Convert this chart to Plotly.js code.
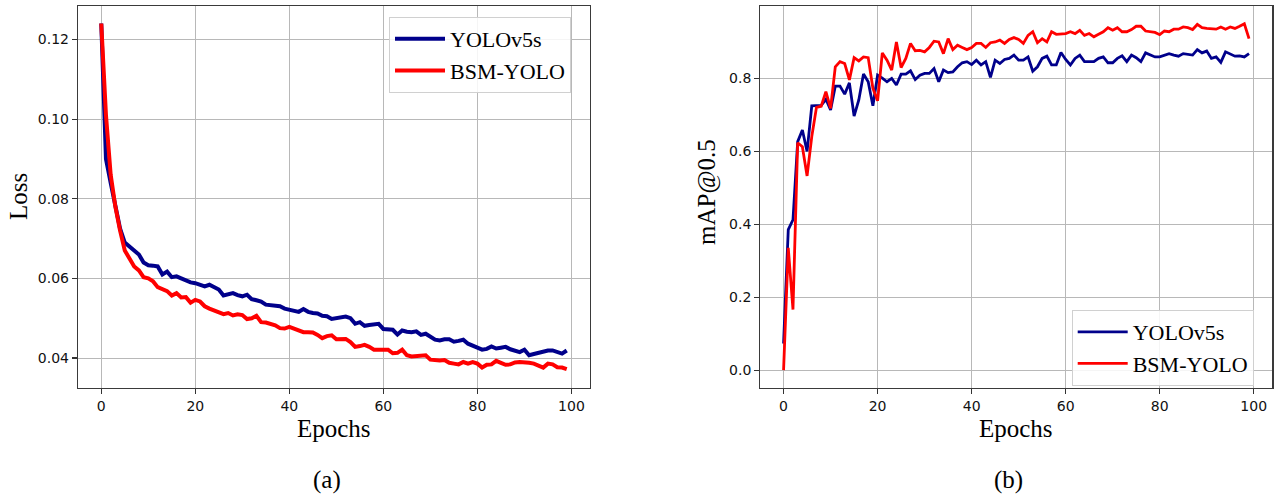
<!DOCTYPE html>
<html>
<head>
<meta charset="utf-8">
<script src="https://cdn.plot.ly/plotly-3.0.1.min.js"></script>
<style>html,body{margin:0;padding:0;background:#fff;}#chart{width:1277px;height:497px;}</style>
</head>
<body>
<div id="chart"></div>
<script>
// Epoch index (x categories)
const epochs = Array.from({length: 100}, (_, i) => i);

// (a) Loss
const lossYOLOv5s = [
  0.1240, 0.0900, 0.0840, 0.0780, 0.0725, 0.0690, 0.0680, 0.0670, 0.0660, 0.0640,
  0.0633, 0.0632, 0.0630, 0.0610, 0.0617, 0.0603, 0.0605, 0.0600, 0.0594, 0.0590,
  0.0588, 0.0585, 0.0580, 0.0584, 0.0578, 0.0572, 0.0557, 0.0560, 0.0563, 0.0558,
  0.0555, 0.0559, 0.0548, 0.0545, 0.0542, 0.0534, 0.0533, 0.0533, 0.0530, 0.0524,
  0.0522, 0.0518, 0.0516, 0.0523, 0.0516, 0.0513, 0.0512, 0.0506, 0.0505, 0.0498,
  0.0500, 0.0503, 0.0504, 0.0500, 0.0486, 0.0490, 0.0481, 0.0483, 0.0484, 0.0486,
  0.0473, 0.0473, 0.0471, 0.0459, 0.0469, 0.0466, 0.0465, 0.0467, 0.0458, 0.0461,
  0.0452, 0.0446, 0.0444, 0.0447, 0.0447, 0.0441, 0.0443, 0.0446, 0.0436, 0.0430,
  0.0426, 0.0421, 0.0423, 0.0429, 0.0424, 0.0426, 0.0428, 0.0422, 0.0418, 0.0415,
  0.0421, 0.0407, 0.0410, 0.0413, 0.0418, 0.0419, 0.0419, 0.0415, 0.0411, 0.0419
];
const lossBSMYOLO = [
  0.1240, 0.1010, 0.0860, 0.0780, 0.0720, 0.0670, 0.0650, 0.0630, 0.0620, 0.0603,
  0.0600, 0.0593, 0.0578, 0.0574, 0.0568, 0.0557, 0.0563, 0.0552, 0.0553, 0.0539,
  0.0546, 0.0542, 0.0530, 0.0524, 0.0520, 0.0516, 0.0510, 0.0513, 0.0507, 0.0510,
  0.0508, 0.0498, 0.0500, 0.0506, 0.0490, 0.0489, 0.0485, 0.0482, 0.0475, 0.0474,
  0.0478, 0.0474, 0.0471, 0.0465, 0.0465, 0.0464, 0.0458, 0.0450, 0.0455, 0.0457,
  0.0447, 0.0447, 0.0448, 0.0440, 0.0428, 0.0430, 0.0433, 0.0428, 0.0421, 0.0421,
  0.0421, 0.0421, 0.0412, 0.0413, 0.0421, 0.0407, 0.0404, 0.0405, 0.0405, 0.0407,
  0.0396, 0.0394, 0.0394, 0.0395, 0.0388, 0.0386, 0.0384, 0.0390, 0.0386, 0.0390,
  0.0386, 0.0376, 0.0383, 0.0384, 0.0393, 0.0388, 0.0383, 0.0384, 0.0389, 0.0390,
  0.0390, 0.0388, 0.0386, 0.0381, 0.0376, 0.0386, 0.0384, 0.0377, 0.0376, 0.0372
];

// (b) mAP@0.5
const mapYOLOv5s = [
  0.073, 0.385, 0.412, 0.626, 0.658, 0.599, 0.724, 0.725, 0.725, 0.742,
  0.713, 0.778, 0.778, 0.756, 0.787, 0.696, 0.740, 0.811, 0.790, 0.724,
  0.808, 0.800, 0.790, 0.799, 0.781, 0.811, 0.811, 0.820, 0.796, 0.808,
  0.813, 0.813, 0.826, 0.790, 0.822, 0.815, 0.817, 0.831, 0.842, 0.845,
  0.837, 0.849, 0.836, 0.845, 0.802, 0.849, 0.840, 0.851, 0.854, 0.863,
  0.849, 0.849, 0.858, 0.819, 0.831, 0.854, 0.860, 0.836, 0.836, 0.870,
  0.851, 0.836, 0.854, 0.863, 0.845, 0.845, 0.845, 0.854, 0.858, 0.842,
  0.842, 0.854, 0.861, 0.845, 0.863, 0.856, 0.845, 0.869, 0.863, 0.858,
  0.858, 0.863, 0.867, 0.863, 0.860, 0.867, 0.866, 0.863, 0.878, 0.869,
  0.874, 0.854, 0.858, 0.843, 0.872, 0.867, 0.860, 0.861, 0.858, 0.867
];
const mapBSMYOLO = [
  0.000, 0.335, 0.166, 0.623, 0.612, 0.532, 0.640, 0.720, 0.723, 0.763,
  0.717, 0.831, 0.845, 0.840, 0.795, 0.856, 0.847, 0.858, 0.856, 0.772,
  0.738, 0.869, 0.849, 0.822, 0.899, 0.829, 0.854, 0.895, 0.875, 0.876,
  0.872, 0.884, 0.901, 0.899, 0.867, 0.908, 0.878, 0.890, 0.884, 0.878,
  0.884, 0.895, 0.895, 0.884, 0.897, 0.899, 0.904, 0.895, 0.906, 0.911,
  0.906, 0.895, 0.917, 0.927, 0.897, 0.908, 0.899, 0.927, 0.920, 0.922,
  0.922, 0.927, 0.922, 0.931, 0.917, 0.922, 0.913, 0.920, 0.927, 0.938,
  0.931, 0.938, 0.927, 0.927, 0.933, 0.942, 0.942, 0.929, 0.928, 0.925,
  0.919, 0.929, 0.927, 0.934, 0.934, 0.940, 0.938, 0.933, 0.947, 0.938,
  0.936, 0.935, 0.934, 0.940, 0.934, 0.940, 0.936, 0.942, 0.949, 0.908
];

const seriesNames = ['YOLOv5s', 'BSM-YOLO'];
const xTicks = [0, 20, 40, 60, 80, 100];

const BLUE = '#00008b';
const RED = '#ff0000';
const SERIF = 'Liberation Serif, Times New Roman, serif';
const SANS = 'DejaVu Sans, sans-serif';

const traces = [
  {x: epochs, y: lossYOLOv5s, name: seriesNames[0], type: 'scatter', mode: 'lines',
   line: {color: BLUE, width: 4}, xaxis: 'x', yaxis: 'y', legend: 'legend'},
  {x: epochs, y: lossBSMYOLO, name: seriesNames[1], type: 'scatter', mode: 'lines',
   line: {color: RED, width: 4}, xaxis: 'x', yaxis: 'y', legend: 'legend'},
  {x: epochs, y: mapYOLOv5s, name: seriesNames[0], type: 'scatter', mode: 'lines',
   line: {color: BLUE, width: 2.8}, xaxis: 'x2', yaxis: 'y2', legend: 'legend2'},
  {x: epochs, y: mapBSMYOLO, name: seriesNames[1], type: 'scatter', mode: 'lines',
   line: {color: RED, width: 2.8}, xaxis: 'x2', yaxis: 'y2', legend: 'legend2'}
];

const W = 1277, H = 497;
const axCommon = {
  showline: true, mirror: true, linecolor: '#3a3a3a', linewidth: 1.2,
  showgrid: true, gridcolor: '#b8b8b8', gridwidth: 1,
  zeroline: false, ticks: 'outside', ticklen: 5, tickwidth: 1.1, tickcolor: '#333',
  tickfont: {family: SANS, size: 14, color: '#111'}
};
const yDomain = [1 - 387.5 / H, 1 - 6 / H];

const layout = {
  width: W, height: H,
  margin: {l: 0, r: 0, t: 0, b: 0},
  paper_bgcolor: '#fff', plot_bgcolor: '#fff',
  showlegend: true,
  xaxis: Object.assign({}, axCommon, {domain: [78 / W, 590 / W], range: [-4.95, 103.95],
    tickvals: xTicks, anchor: 'y'}),
  yaxis: Object.assign({}, axCommon, {domain: yDomain, range: [0.0326, 0.1284],
    dtick: 0.02, tick0: 0, tickformat: '.2f', anchor: 'x'}),
  xaxis2: Object.assign({}, axCommon, {domain: [760.3 / W, 1272.3 / W], range: [-4.95, 103.95],
    tickvals: xTicks, anchor: 'y2'}),
  yaxis2: Object.assign({}, axCommon, {domain: yDomain, range: [-0.0475, 0.9975],
    dtick: 0.2, tick0: 0, tickformat: '.1f', anchor: 'x2'}),
  legend: {x: 389 / W, y: 1 - 17 / H, xanchor: 'left', yanchor: 'top',
    bgcolor: 'rgba(255,255,255,0.85)', bordercolor: '#d0d0d0', borderwidth: 1,
    font: {family: SERIF, size: 22, color: '#000'}, itemwidth: 50, tracegroupgap: 0},
  legend2: {x: 1071.7 / W, y: 1 - 310 / H, xanchor: 'left', yanchor: 'top',
    bgcolor: 'rgba(255,255,255,0.85)', bordercolor: '#d0d0d0', borderwidth: 1,
    font: {family: SERIF, size: 22, color: '#000'}, itemwidth: 50, tracegroupgap: 0},
  annotations: [
    {text: 'Loss', xref: 'paper', yref: 'paper', x: 18 / W, y: 1 - 197 / H,
     xanchor: 'center', yanchor: 'middle', textangle: -90, showarrow: false,
     font: {family: SERIF, size: 25, color: '#000'}},
    {text: 'Epochs', xref: 'paper', yref: 'paper', x: 334 / W, y: 1 - 428 / H,
     xanchor: 'center', yanchor: 'middle', showarrow: false,
     font: {family: SERIF, size: 25, color: '#000'}},
    {text: '(a)', xref: 'paper', yref: 'paper', x: 327 / W, y: 1 - 480 / H,
     xanchor: 'center', yanchor: 'middle', showarrow: false,
     font: {family: SERIF, size: 25, color: '#000'}},
    {text: 'mAP@0.5', xref: 'paper', yref: 'paper', x: 707 / W, y: 1 - 192 / H,
     xanchor: 'center', yanchor: 'middle', textangle: -90, showarrow: false,
     font: {family: SERIF, size: 25, color: '#000'}},
    {text: 'Epochs', xref: 'paper', yref: 'paper', x: 1016 / W, y: 1 - 428 / H,
     xanchor: 'center', yanchor: 'middle', showarrow: false,
     font: {family: SERIF, size: 25, color: '#000'}},
    {text: '(b)', xref: 'paper', yref: 'paper', x: 1008 / W, y: 1 - 480 / H,
     xanchor: 'center', yanchor: 'middle', showarrow: false,
     font: {family: SERIF, size: 25, color: '#000'}}
  ]
};

Plotly.newPlot('chart', traces, layout, {staticPlot: true, displayModeBar: false});
</script>
</body>
</html>
